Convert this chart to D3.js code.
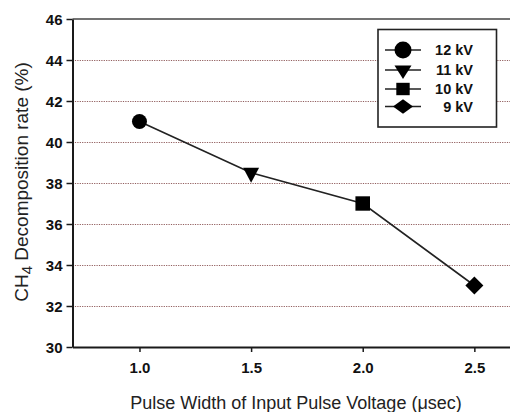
<!DOCTYPE html>
<html>
<head>
<meta charset="utf-8">
<script src="https://cdn.jsdelivr.net/npm/d3@7"></script>
<style>
  html, body { margin: 0; padding: 0; background: #fff; }
  svg { display: block; font-family: "Liberation Sans", Arial, sans-serif; }
</style>
</head>
<body>
<svg id="chart" width="510" height="412"></svg>
<script>
// Pulse width (µsec) and CH4 decomposition rate (%) for each applied voltage
const pulseWidths = [1.0, 1.5, 2.0, 2.5];
const decompositionRates = [41, 38.5, 37, 33];
const voltageLabels = ["12 kV", "11 kV", "10 kV", "9 kV"];
const markerShapes = ["circle", "triangle", "square", "diamond"];
const xTicks = [1.0, 1.5, 2.0, 2.5];
const yTicks = [30, 32, 34, 36, 38, 40, 42, 44, 46];
const gridValues = [32, 34, 36, 38, 40, 42, 44];

const svg = d3.select("#chart");
const plotLeft = 72.5, plotTop = 19, plotBottom = 347, plotRight = 519;

const x = d3.scaleLinear().domain([0.7, 2.7]).range([plotLeft, plotRight]);
const y = d3.scaleLinear().domain([30, 46]).range([plotBottom, plotTop]);

// Dotted horizontal gridlines
svg.append("g").selectAll("line").data(gridValues).join("line")
  .attr("x1", plotLeft).attr("x2", plotRight)
  .attr("y1", d => y(d) + 0.5).attr("y2", d => y(d) + 0.5)
  .attr("stroke", "#6e2a2a").attr("stroke-opacity", 0.75).attr("stroke-width", 1.2)
  .attr("stroke-dasharray", "1.2,1.2");

// Frame top line
svg.append("line").attr("x1", plotLeft).attr("x2", plotRight)
  .attr("y1", plotTop).attr("y2", plotTop)
  .attr("stroke", "#444").attr("stroke-width", 1.6);

// Axes
const yAxis = svg.append("g").attr("transform", `translate(${plotLeft},0)`)
  .call(d3.axisLeft(y).tickValues(yTicks).tickFormat(d3.format("d")).tickSize(6).tickSizeOuter(0));
const xAxis = svg.append("g").attr("transform", `translate(0,${plotBottom})`)
  .call(d3.axisBottom(x).tickValues(xTicks).tickFormat(d3.format(".1f")).tickSize(5).tickSizeOuter(0));

[yAxis, xAxis].forEach(g => {
  g.select(".domain").attr("stroke", "#1a1a1a").attr("stroke-width", 2);
  g.selectAll(".tick line").attr("stroke", "#1a1a1a").attr("stroke-width", 1.5);
  g.selectAll(".tick text").attr("fill", "#111")
    .style("font-size", "15px").style("font-weight", "bold")
    .style("font-family", "'Liberation Sans', Arial, sans-serif");
});
yAxis.selectAll(".tick text").attr("x", -10).attr("dy", "0.36em");
xAxis.selectAll(".tick text").attr("y", 26).attr("dy", 0);

// Marker outlines: half-width / half-height per shape
function markerPath(shape, w, h) {
  const p = d3.path();
  if (shape === "circle") {
    p.arc(0, 0, w, 0, 2 * Math.PI);
  } else if (shape === "triangle") {
    // pointing down, centred on its centroid
    p.moveTo(-w, -h / 3); p.lineTo(w, -h / 3); p.lineTo(0, 2 * h / 3);
  } else if (shape === "square") {
    p.rect(-w, -h, 2 * w, 2 * h);
  } else {
    p.moveTo(0, -h); p.lineTo(w, 0); p.lineTo(0, h); p.lineTo(-w, 0);
  }
  p.closePath();
  return p.toString();
}
const plotMarkerSize = { circle: [7.5, 7.5], triangle: [8, 15], square: [7.3, 7.2], diamond: [9, 9] };
const legendMarkerSize = { circle: [8.5, 8.5], triangle: [8.5, 13.5], square: [6.7, 6.2], diamond: [10, 7.2] };

// Connecting line
const points = pulseWidths.map((p, i) => ({ p, v: decompositionRates[i], shape: markerShapes[i] }));
svg.append("path").datum(points)
  .attr("d", d3.line().x(d => x(d.p)).y(d => y(d.v)))
  .attr("fill", "none").attr("stroke", "#222").attr("stroke-width", 1.6);

svg.append("g").selectAll("path").data(points).join("path")
  .attr("d", d => markerPath(d.shape, ...plotMarkerSize[d.shape]))
  .attr("transform", d => `translate(${x(d.p)},${y(d.v)})`)
  .attr("fill", "#000");

// Legend
const legend = svg.append("g");
legend.append("rect").attr("x", 378).attr("y", 29.5).attr("width", 118.5).attr("height", 97.5)
  .attr("fill", "#fff").attr("stroke", "#222").attr("stroke-width", 1.6);
const rowY = [50, 70, 89, 106.5];
voltageLabels.forEach((label, i) => {
  const row = legend.append("g").attr("transform", `translate(0,${rowY[i]})`);
  row.append("line").attr("x1", 385).attr("x2", 421).attr("y1", 0).attr("y2", 0)
    .attr("stroke", "#222").attr("stroke-width", 1.6);
  row.append("path").attr("d", markerPath(markerShapes[i], ...legendMarkerSize[markerShapes[i]]))
    .attr("transform", "translate(403,0)")
    .attr("fill", "#000");
  row.append("text").attr("x", 473).attr("y", 0).attr("dy", "0.36em")
    .attr("text-anchor", "end")
    .style("font-size", "14.5px").style("font-weight", "bold").attr("fill", "#111")
    .text(label);
});

// Axis titles
const yTitle = svg.append("text")
  .attr("transform", "translate(28,182) rotate(-90)")
  .attr("text-anchor", "middle").style("font-size", "19px").attr("fill", "#222");
yTitle.append("tspan").text("CH");
yTitle.append("tspan").attr("dy", 4).style("font-size", "15px").text("4");
yTitle.append("tspan").attr("dy", -4).text(" Decomposition rate (%)");

svg.append("text").attr("x", 296).attr("y", 409).attr("text-anchor", "middle")
  .style("font-size", "18px").attr("fill", "#222")
  .text("Pulse Width of Input Pulse Voltage (μsec)");
</script>
</body>
</html>
